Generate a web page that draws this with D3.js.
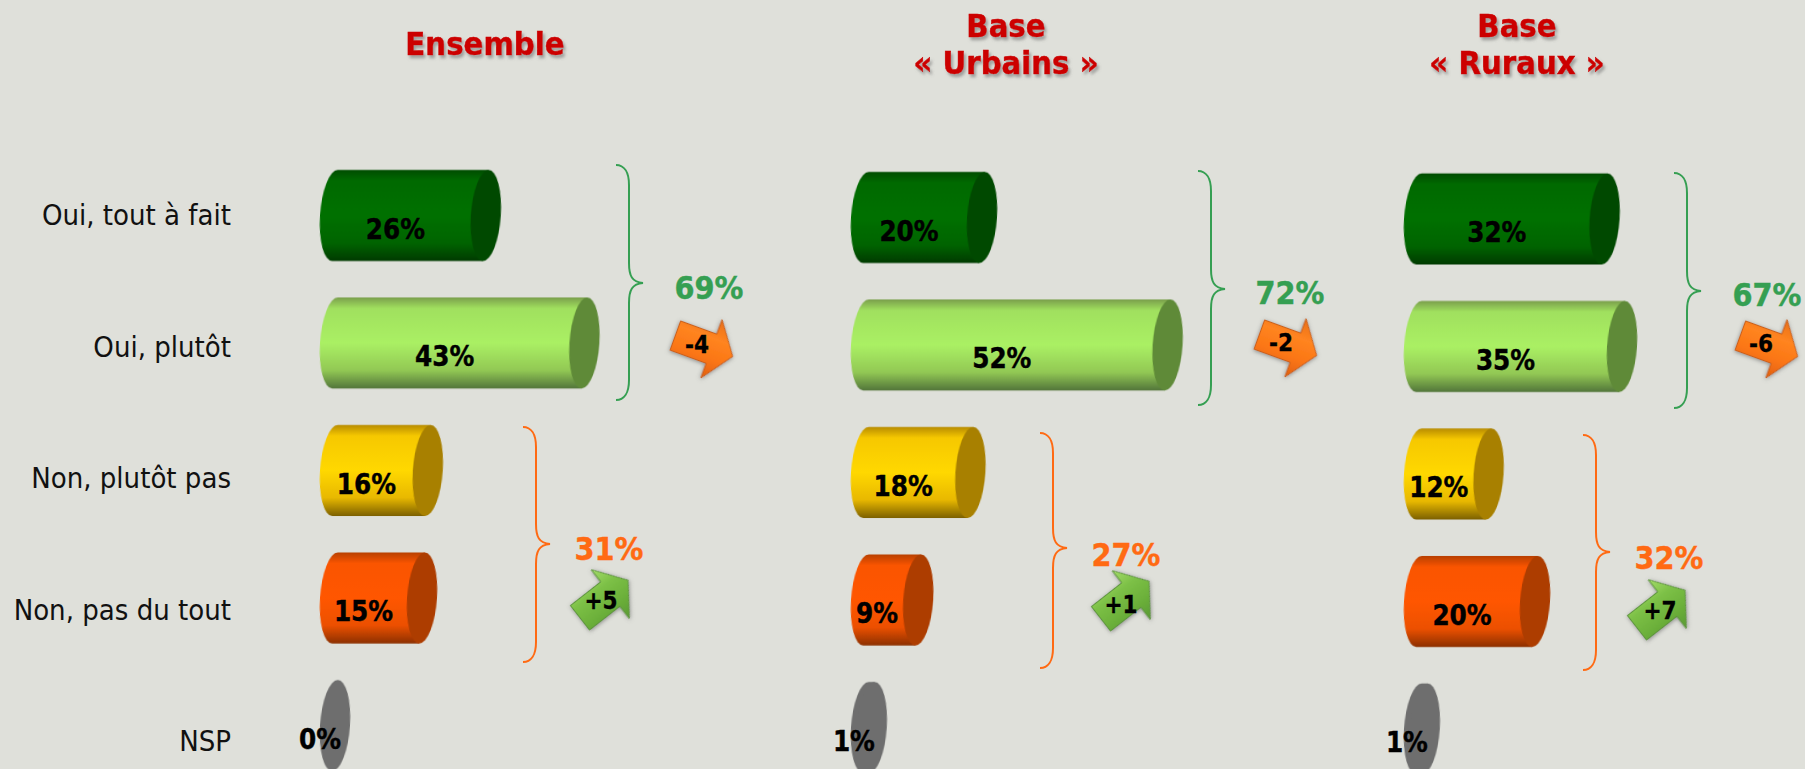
<!DOCTYPE html>
<html><head><meta charset="utf-8">
<script src="https://cdn.jsdelivr.net/npm/d3@7/dist/d3.min.js"></script>
<style>
html,body{margin:0;padding:0;background:#dfe0da;overflow:hidden}
svg{display:block}
text{font-family:"DejaVu Sans";font-stretch:condensed}
</style></head><body>
<svg id="c" width="1805" height="769"></svg>
<script>
const categories = ["Oui, tout à fait","Oui, plutôt","Non, plutôt pas","Non, pas du tout","NSP"];
const panelTitles = [["Ensemble"],["Base","« Urbains »"],["Base","« Ruraux »"]];
const valuesEnsemble = [26,43,16,15,0];
const valuesUrbains = [20,52,18,9,1];
const valuesRuraux = [32,35,12,20,1];
const totalsOui = [69,72,67];
const totalsNon = [31,27,32];
const deltasOui = ["-4","-2","-6"];
const deltasNon = ["+5","+1","+7"];

const series = [valuesEnsemble,valuesUrbains,valuesRuraux];

// Layout (kept apart from the data)
const layout = [
 {x0:320,dy:0,tx:485,ty:[43],
  g:{x:616,y0:165,tip:283,y1:400,lx:709,ly:287,ax:704,ay:346,dx:697,dy:344},
  o:{x:523,y0:427,tip:544,y1:662,lx:609,ly:548,ax:604,ay:599,dx:601,dy:600}},
 {x0:851,dy:2,tx:1006,ty:[25,62],
  g:{x:1198,y0:171,tip:289,y1:405,lx:1290,ly:292,ax:1288,ay:345,dx:1281,dy:342},
  o:{x:1040,y0:433,tip:548,y1:668,lx:1126,ly:554,ax:1125,ay:600,dx:1121,dy:604}},
 {x0:1404,dy:3.5,tx:1517,ty:[25,62],
  g:{x:1674,y0:173,tip:291,y1:408,lx:1767,ly:294,ax:1769,ay:346,dx:1761,dy:343},
  o:{x:1583,y0:435,tip:552,y1:670,lx:1669,ly:557,ax:1661,ay:609,dx:1660,dy:610}}
];
const catStyle = [
 {id:"g1",end:"#004a00",stops:["#004c00","#006a00","#007000","#006400","#003a00"]},
 {id:"g2",end:"#5f8a38",stops:["#7a9f4c","#a0e05e","#aaf064","#92c854","#52753a"]},
 {id:"g3",end:"#a88000",stops:["#b88c00","#f6c800","#ffd800","#e8b800","#7c6000"]},
 {id:"g4",end:"#ad3c00",stops:["#b84000","#fa5400","#ff5600","#ec5000","#8c3000"]},
 {id:"g5",end:"#6e6e6e",stops:["#6e6e6e","#6e6e6e","#6e6e6e","#6e6e6e","#6e6e6e"]}
];
const GREEN="#359f52", ORANGE="#ff6a13", H=91, RX=15, TILT=-3.5;

const svg=d3.select("#c");
const defs=svg.append("defs");
catStyle.forEach(s=>{
  const g=defs.append("linearGradient").attr("id",s.id).attr("x1",0).attr("y1",0).attr("x2",0).attr("y2",1);
  [0,.12,.5,.8,1].forEach((o,i)=>g.append("stop").attr("offset",o).attr("stop-color",s.stops[i]));
});
const arrowGrad=(id,c)=>{
  const g=defs.append("linearGradient").attr("id",id).attr("x1",0).attr("y1",0).attr("x2",0).attr("y2",1);
  c.forEach((v,i)=>g.append("stop").attr("offset",i/(c.length-1)).attr("stop-color",v));
};
arrowGrad("aO",["#e8701c","#ff8420","#fb7614","#e05f10"]);
arrowGrad("aG",["#a4dc6a","#7cc046","#6cb03a","#5a9a34"]);
const sh=defs.append("filter").attr("id","ash").attr("x","-30%").attr("y","-30%").attr("width","160%").attr("height","160%");
sh.append("feDropShadow").attr("dx",0).attr("dy",1).attr("stdDeviation",2).attr("flood-color","#555").attr("flood-opacity",.6);
const ts=defs.append("filter").attr("id","tsh").attr("x","-10%").attr("y","-20%").attr("width","120%").attr("height","150%");
ts.append("feDropShadow").attr("dx",2).attr("dy",3).attr("stdDeviation",1.5).attr("flood-color","#666").attr("flood-opacity",.55);
const soft=defs.append("filter").attr("id","soft");
soft.append("feGaussianBlur").attr("stdDeviation",.6);

const x=d3.scaleLinear().domain([0,100]).range([0,580]);
const rowY=d3.scalePoint().domain(categories).range([215.5,725.5]);
const labelY=d3.scalePoint().domain(categories).range([215,741]);

svg.append("g").selectAll("text").data(categories).join("text")
  .attr("x",231).attr("y",d=>labelY(d)).attr("dy","0.35em")
  .attr("text-anchor","end").attr("font-size",29).attr("fill","#111").text(d=>d);

function brace(b,color){
  const s=b.x+13,t=b.x+27;
  const p=d3.path();
  p.moveTo(b.x,b.y0);
  p.bezierCurveTo(b.x+8,b.y0,s,b.y0+7,s,b.y0+20);
  p.lineTo(s,b.tip-20);
  p.bezierCurveTo(s,b.tip-7,s+3,b.tip-1,t,b.tip);
  p.bezierCurveTo(s+3,b.tip+1,s,b.tip+7,s,b.tip+20);
  p.lineTo(s,b.y1-20);
  p.bezierCurveTo(s,b.y1-7,b.x+8,b.y1,b.x,b.y1);
  svg.append("path").attr("d",p.toString()).attr("fill","none").attr("stroke",color).attr("stroke-width",2);
}
function arrow(cx,cy,rot,grad,edge){
  const L=30.5,N=8,SW=15.5,HW=31;
  const pts=[[-L,-SW],[N,-SW],[N,-HW],[L,0],[N,HW],[N,SW],[-L,SW]];
  const g=svg.append("g").attr("transform",`translate(${cx},${cy}) rotate(${rot})`).attr("filter","url(#ash)");
  g.append("path").attr("d",d3.line()(pts)+"Z").attr("fill",`url(#${grad})`).attr("stroke",edge).attr("stroke-width",1).attr("stroke-linejoin","round");
}
function boldText(xp,yp,size,col,t,sw){
  return svg.append("text").attr("x",xp).attr("y",yp).attr("dy","0.36em").attr("text-anchor","middle")
    .attr("font-size",size).attr("font-weight","bold").attr("fill",col)
    .attr("stroke",col).attr("stroke-width",sw).text(t);
}

layout.forEach((L,pi)=>{
  const vals=series[pi];
  panelTitles[pi].forEach((t,i)=>boldText(L.tx,L.ty[i],32.5,"#cc0000",t,.5).attr("filter","url(#tsh)"));
  const g=svg.append("g");
  vals.forEach((v,i)=>{
    const c=categories[i], st=catStyle[i], cy=rowY(c)+L.dy, w=x(v), lx=L.x0+15, rx=lx+w, top=cy-H/2, bot=cy+H/2;
    // tilt the whole cylinder around its mid-height: the ends lean to the right at the top
    const cyl=g.append("g").attr("filter","url(#soft)")
      .attr("transform",`translate(0,${cy}) skewX(${TILT}) translate(0,${-cy})`);
    const body=`M${lx},${top} L${rx},${top} L${rx},${bot} L${lx},${bot} A${RX},${H/2} 0 0 1 ${lx},${top} Z`;
    if(v>0) cyl.append("path").attr("d",body).attr("fill",`url(#${st.id})`);
    cyl.append("ellipse").attr("cx",rx).attr("cy",cy).attr("rx",RX).attr("ry",H/2).attr("fill",st.end);
  });
  vals.forEach((v,i)=>{
    const c=categories[i], cy=rowY(c)+L.dy, w=x(v);
    boldText(L.x0+w/2,cy+13.5,27.5,"#000",v+"%",.4);
  });
  brace(L.g,GREEN); brace(L.o,ORANGE);
  boldText(L.g.lx,L.g.ly,32,GREEN,totalsOui[pi]+"%",.4);
  boldText(L.o.lx,L.o.ly,32,ORANGE,totalsNon[pi]+"%",.4);
  arrow(L.g.ax,L.g.ay,20,"aO","#c8601c");
  arrow(L.o.ax,L.o.ay,-38,"aG","#5f9440");
  boldText(L.g.dx,L.g.dy,24,"#000",deltasOui[pi],.3);
  boldText(L.o.dx,L.o.dy,24,"#000",deltasNon[pi],.3);
});
</script></body></html>
